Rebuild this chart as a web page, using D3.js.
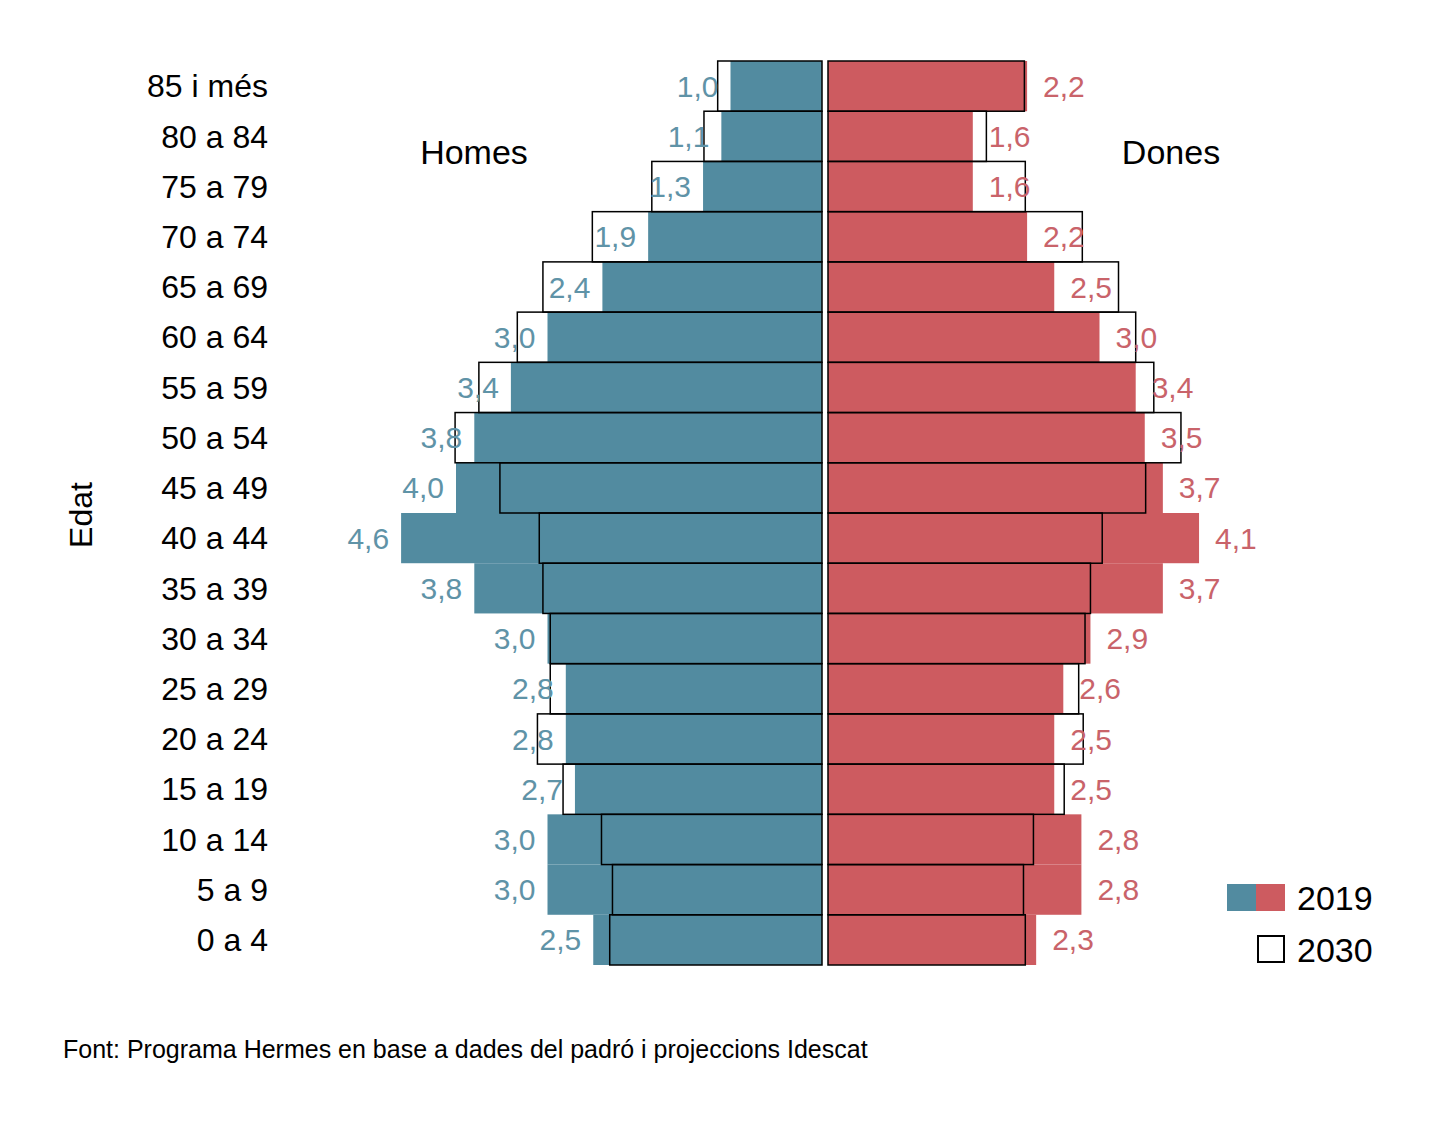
<!DOCTYPE html>
<html><head><meta charset="utf-8">
<script src="https://cdn.jsdelivr.net/npm/d3@7"></script>
<style>body{margin:0;background:#fff}text{font-family:"Liberation Sans",Arial,sans-serif}</style>
</head><body><svg id="c" width="1441" height="1122"></svg>
<script>
const ages = ['85 i més','80 a 84','75 a 79','70 a 74','65 a 69','60 a 64','55 a 59','50 a 54','45 a 49','40 a 44','35 a 39','30 a 34','25 a 29','20 a 24','15 a 19','10 a 14','5 a 9','0 a 4'];
const homes2019 = [1.0,1.1,1.3,1.9,2.4,3.0,3.4,3.8,4.0,4.6,3.8,3.0,2.8,2.8,2.7,3.0,3.0,2.5];
const dones2019 = [2.2,1.6,1.6,2.2,2.5,3.0,3.4,3.5,3.7,4.1,3.7,2.9,2.6,2.5,2.5,2.8,2.8,2.3];
const homes2030 = [1.14,1.29,1.86,2.51,3.05,3.33,3.75,4.01,3.52,3.09,3.05,2.97,2.97,3.11,2.83,2.41,2.29,2.32];
const dones2030 = [2.17,1.75,2.18,2.81,3.21,3.40,3.60,3.90,3.51,3.03,2.90,2.84,2.77,2.82,2.61,2.27,2.16,2.18];

const svg = d3.select('#c');
const y = d3.scaleBand().domain(ages).range([61, 965]).padding(0);
const xl = d3.scaleLinear().domain([0, 5]).range([822, 822 - 5 * 91.5]);
const xr = d3.scaleLinear().domain([0, 5]).range([828, 828 + 5 * 90.5]);
const fmt = v => d3.format('.1f')(v).replace('.', ',');

// 2019 filled bars
svg.selectAll('.h19').data(homes2019).enter().append('rect')
  .attr('x', d => xl(d)).attr('y', (d, i) => y(ages[i]))
  .attr('width', d => xl(0) - xl(d)).attr('height', y.bandwidth())
  .attr('fill', '#528ba0');
svg.selectAll('.d19').data(dones2019).enter().append('rect')
  .attr('x', xr(0)).attr('y', (d, i) => y(ages[i]))
  .attr('width', d => xr(d) - xr(0)).attr('height', y.bandwidth())
  .attr('fill', '#cd5b60');

// 2030 outlines
svg.selectAll('.h30').data(homes2030).enter().append('rect')
  .attr('x', d => xl(d)).attr('y', (d, i) => y(ages[i]))
  .attr('width', d => xl(0) - xl(d)).attr('height', y.bandwidth())
  .attr('fill', 'none').attr('stroke', '#000').attr('stroke-width', 1.5);
svg.selectAll('.d30').data(dones2030).enter().append('rect')
  .attr('x', xr(0)).attr('y', (d, i) => y(ages[i]))
  .attr('width', d => xr(d) - xr(0)).attr('height', y.bandwidth())
  .attr('fill', 'none').attr('stroke', '#000').attr('stroke-width', 1.5);

// value labels
svg.selectAll('.hl').data(homes2019).enter().append('text')
  .attr('x', d => xl(d) - 12).attr('y', (d, i) => y(ages[i]) + y.bandwidth() / 2)
  .attr('dy', '0.35em').attr('text-anchor', 'end').attr('font-size', 30)
  .attr('fill', '#5f93a7').text(fmt);
svg.selectAll('.dl').data(dones2019).enter().append('text')
  .attr('x', d => xr(d) + 16).attr('y', (d, i) => y(ages[i]) + y.bandwidth() / 2)
  .attr('dy', '0.35em').attr('font-size', 30)
  .attr('fill', '#c9636a').text(fmt);

// age axis labels
svg.selectAll('.al').data(ages).enter().append('text')
  .attr('x', 268).attr('y', d => y(d) + y.bandwidth() / 2).attr('dy', '0.35em')
  .attr('text-anchor', 'end').attr('font-size', 32).attr('fill', '#000').text(d => d);

svg.append('text').attr('transform', 'translate(92,515) rotate(-90)')
  .attr('text-anchor', 'middle').attr('font-size', 32).text('Edat');
svg.append('text').attr('x', 474).attr('y', 164).attr('text-anchor', 'middle')
  .attr('font-size', 34).text('Homes');
svg.append('text').attr('x', 1171).attr('y', 164).attr('text-anchor', 'middle')
  .attr('font-size', 34).text('Dones');

// legend
svg.append('rect').attr('x', 1227).attr('y', 884).attr('width', 29).attr('height', 27).attr('fill', '#528ba0');
svg.append('rect').attr('x', 1256).attr('y', 884).attr('width', 29).attr('height', 27).attr('fill', '#cd5b60');
svg.append('text').attr('x', 1297).attr('y', 910).attr('font-size', 34).text('2019');
svg.append('rect').attr('x', 1258).attr('y', 936).attr('width', 26).attr('height', 26)
  .attr('fill', 'none').attr('stroke', '#000').attr('stroke-width', 2);
svg.append('text').attr('x', 1297).attr('y', 962).attr('font-size', 34).text('2030');

svg.append('text').attr('x', 63).attr('y', 1058).attr('font-size', 25)
  .text('Font: Programa Hermes en base a dades del padró i projeccions Idescat');
</script></body></html>
